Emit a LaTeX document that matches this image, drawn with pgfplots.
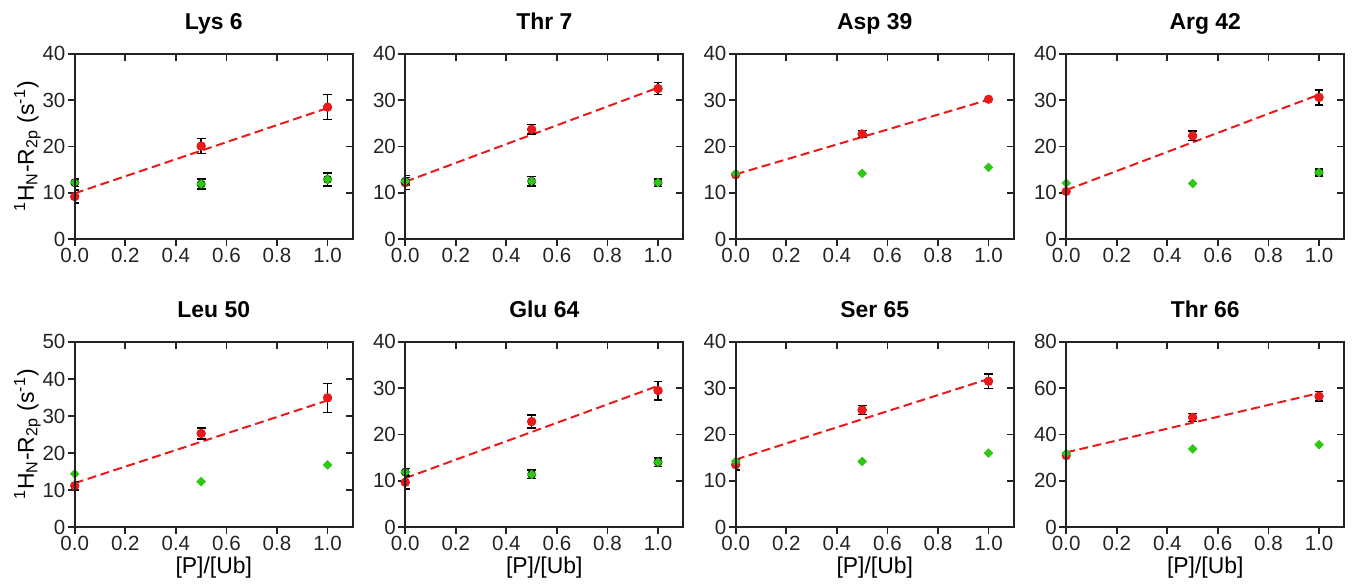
\documentclass[border=0pt]{standalone}
\usepackage{fontspec}
\setmainfont{Liberation Sans}
\usepackage{pgfplots}
\usepackage{pgfplotstable}
\pgfplotsset{compat=1.18}
\usepgfplotslibrary{groupplots}
\definecolor{ptred}{RGB}{235,25,25}
\definecolor{ptgreen}{RGB}{45,200,20}
\definecolor{axgray}{RGB}{35,35,35}

% x, red value, red error, green value, green error, fit line
\pgfplotstableread{
x   r     re   g     ge   fit
0   9.2   1.4  12.2  0.8  9.9
0.5 20.1  1.6  11.9  1.1  19.1
1   28.5  2.7  12.9  1.4  28.3
}\lysA
\pgfplotstableread{
x   r     re   g     ge   fit
0   12.2  1.5  12.5  0.8  12.4
0.5 23.7  1.0  12.5  1.0  22.55
1   32.5  1.3  12.2  0.8  32.7
}\thrA
\pgfplotstableread{
x   r     re   g     ge   fit
0   13.9  0    14.2  0    14.0
0.5 22.7  0.8  14.2  0    22.05
1   30.2  0    15.5  0    30.1
}\aspA
\pgfplotstableread{
x   r     re   g     ge   fit
0   10.3  0    12.1  0    10.6
0.5 22.3  1.0  12.0  0    20.9
1   30.6  1.6  14.4  0.8  31.2
}\argA
\pgfplotstableread{
x   r     re   g     ge   fit
0   11.2  1.2  14.4  0    11.9
0.5 25.3  1.5  12.3  0    23.05
1   34.9  3.9  16.8  0    34.2
}\leuA
\pgfplotstableread{
x   r     re   g     ge   fit
0   9.7   1.4  11.9  0.8  10.6
0.5 22.8  1.4  11.4  0.9  20.55
1   29.5  2.0  14.05 0.9  30.5
}\gluA
\pgfplotstableread{
x   r     re   g     ge   fit
0   13.5  1.1  14.2  0    14.6
0.5 25.3  1.0  14.2  0    23.3
1   31.5  1.6  16.0  0    32.0
}\serA
\pgfplotstableread{
x   r     re   g     ge   fit
0   30.9  0    31.9  0    32.3
0.5 47.4  1.7  33.8  0    45.1
1   56.5  2.0  35.6  0    57.9
}\thrB

\pgfplotsset{
  panel/.style={
    scale only axis, width=139.5pt, height=93pt,
    xmin=0, xmax=1.1, ymin=0,
    xtick={0,0.2,0.4,0.6,0.8,1},
    axis line style={axgray, line width=0.9pt},
    major tick style={axgray, line width=0.9pt},
    major tick length=3.5pt,
  },
  mainpanel/.style={panel, tick pos=left, tick align=outside,
    xticklabel style={/pgf/number format/fixed, /pgf/number format/fixed zerofill, /pgf/number format/precision=1, inner sep=0.8pt},
    ticklabel style={font=\fontsize{10.3}{12}\selectfont, text=axgray},
    yticklabel style={inner sep=1pt},
    /pgf/number format/assume math mode=true,
    title style={font=\bfseries\fontsize{11.5}{13}\selectfont, at={(axis description cs:0.5,1)}, anchor=base, inner sep=0pt, yshift=6pt},
    xlabel style={font=\fontsize{11.5}{13}\selectfont, at={(axis description cs:0.5,-0.215)}, anchor=center, inner sep=0pt},
    ylabel style={font=\fontsize{11.5}{13}\selectfont, at={(axis description cs:-0.17,0.5)}, anchor=center},
  },
  overpanel/.style={panel, tick pos=right, tick align=inside, xticklabels={}, yticklabels={}},
  fitline/.style={ptred, line width=1pt, dash pattern=on 4.5pt off 2.3pt, mark=none},
  errs/.style={only marks, mark=none,
    x filter/.expression={\thisrow{#1}>0 ? x : nan},
    error bars/.cd, y dir=both, y explicit,
    error bar style={black, line width=0.75pt},
    error mark options={black, rotate=90, mark size=2.2pt, line width=0.75pt}},
  redpts/.style={only marks, mark=*, mark size=2.1pt, mark options={draw=ptred, fill=ptred}},
  greenpts/.style={only marks, mark=square*, mark size=1.5pt, mark options={draw=ptgreen, fill=ptgreen, rotate=45}},
}
\newcommand{\drawpanel}[1]{%
  \addplot[fitline] table[x=x, y=fit] {#1};
  \addplot[errs=re] table[x=x, y=r, y error=re] {#1};
  \addplot[redpts] table[x=x, y=r] {#1};
  \addplot[errs=ge] table[x=x, y=g, y error=ge] {#1};
  \addplot[greenpts] table[x=x, y=g] {#1};
}

\begin{document}
\begin{tikzpicture}
\begin{groupplot}[group style={group size=4 by 2, horizontal sep=26.3pt, vertical sep=51.5pt}, mainpanel]
\nextgroupplot[title={Lys 6}, ymax=40, ytick={0,10,20,30,40},
  ylabel={\textsuperscript{1}H\textsubscript{N}-R\textsubscript{2p} (s\textsuperscript{-1})}]
\drawpanel{\lysA}
\nextgroupplot[title={Thr 7}, ymax=40, ytick={0,10,20,30,40}]
\drawpanel{\thrA}
\nextgroupplot[title={Asp 39}, ymax=40, ytick={0,10,20,30,40}]
\drawpanel{\aspA}
\nextgroupplot[title={Arg 42}, ymax=40, ytick={0,10,20,30,40}]
\drawpanel{\argA}
\nextgroupplot[title={Leu 50}, ymax=50, ytick={0,10,20,30,40,50}, xlabel={[P]/[Ub]},
  ylabel={\textsuperscript{1}H\textsubscript{N}-R\textsubscript{2p} (s\textsuperscript{-1})}]
\drawpanel{\leuA}
\nextgroupplot[title={Glu 64}, ymax=40, ytick={0,10,20,30,40}, xlabel={[P]/[Ub]}]
\drawpanel{\gluA}
\nextgroupplot[title={Ser 65}, ymax=40, ytick={0,10,20,30,40}, xlabel={[P]/[Ub]}]
\drawpanel{\serA}
\nextgroupplot[title={Thr 66}, ymax=80, ytick={0,20,40,60,80}, xlabel={[P]/[Ub]}]
\drawpanel{\thrB}
\end{groupplot}
% inward ticks on the top and right sides
\begin{groupplot}[group style={group name=ov, group size=4 by 2, horizontal sep=26.3pt, vertical sep=51.5pt}, overpanel]
\nextgroupplot[ymax=40, ytick={0,10,20,30,40}]
\nextgroupplot[ymax=40, ytick={0,10,20,30,40}]
\nextgroupplot[ymax=40, ytick={0,10,20,30,40}]
\nextgroupplot[ymax=40, ytick={0,10,20,30,40}]
\nextgroupplot[ymax=50, ytick={0,10,20,30,40,50}]
\nextgroupplot[ymax=40, ytick={0,10,20,30,40}]
\nextgroupplot[ymax=40, ytick={0,10,20,30,40}]
\nextgroupplot[ymax=80, ytick={0,20,40,60,80}]
\end{groupplot}
\path ([shift={(-37.5pt,120pt)}]group c1r1.south west) rectangle ([shift={(641.5pt,-174.5pt)}]group c1r1.south west);
\end{tikzpicture}
\end{document}
